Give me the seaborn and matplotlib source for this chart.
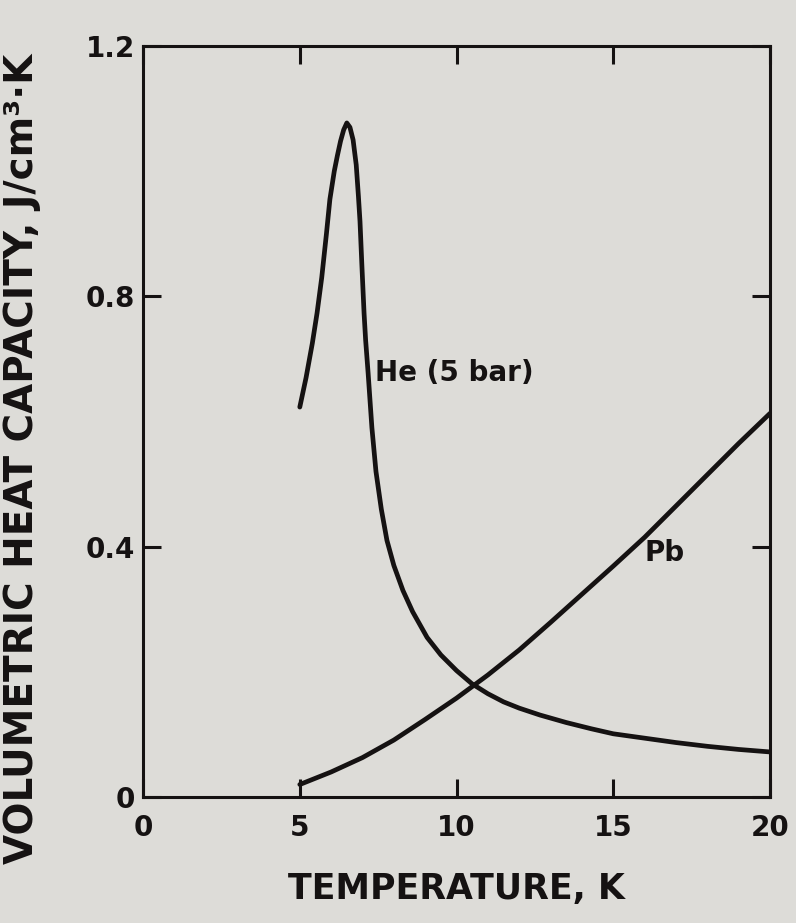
import numpy as np
import pandas as pd
import matplotlib
matplotlib.use('Agg')
import matplotlib.pyplot as plt
import seaborn as sns

sns.set_style('ticks')
plt.rcParams['font.family'] = ['DejaVu Sans']
plt.rcParams['font.weight'] = 'bold'

# He (5 bar) curve
he_temp = [5.0, 5.2, 5.4, 5.55, 5.7, 5.85, 5.96, 6.1, 6.2, 6.3, 6.4, 6.5,
           6.6, 6.7, 6.8, 6.87, 6.92, 6.98, 7.05, 7.1, 7.18, 7.3, 7.43, 7.6,
           7.78, 8.0, 8.29, 8.6, 9.06, 9.5, 10.0, 10.49, 11.0, 11.5, 12.0,
           12.66, 13.5, 14.3, 15.0, 16.0, 17.0, 18.0, 19.0, 20.0]
he_cap = [0.623, 0.67, 0.725, 0.773, 0.83, 0.9, 0.955, 1.0, 1.025, 1.048,
          1.066, 1.077, 1.07, 1.05, 1.01, 0.96, 0.92, 0.85, 0.773, 0.73,
          0.677, 0.59, 0.52, 0.46, 0.41, 0.37, 0.33, 0.296, 0.255, 0.227,
          0.202, 0.181, 0.165, 0.152, 0.142, 0.131, 0.119, 0.109, 0.101,
          0.094, 0.087, 0.081, 0.076, 0.072]

# Pb curve
pb_temp = [5, 6, 7, 8, 9, 10, 11, 12, 13, 14, 15, 16, 17, 18, 19, 20]
pb_cap = [0.02, 0.04, 0.063, 0.091, 0.124, 0.158, 0.195, 0.235, 0.279, 0.324,
          0.369, 0.415, 0.465, 0.515, 0.565, 0.613]

x_ticks = [0, 5, 10, 15, 20]
y_ticks = [0, 0.4, 0.8, 1.2]
y_tick_labels = ['0', '0.4', '0.8', '1.2']

bg = '#dddcd8'
ink = '#151212'

fig = plt.figure(figsize=(7.96, 9.23), dpi=100, facecolor=bg)
ax = fig.add_axes([0.1797, 0.1365, 0.7877, 0.8137])
ax.set_facecolor(bg)

line_kw = dict(color=ink, linewidth=3.4, solid_joinstyle='round',
               solid_capstyle='round')
sns.lineplot(x=he_temp, y=he_cap, ax=ax, **line_kw)
sns.lineplot(x=pb_temp, y=pb_cap, ax=ax, **line_kw)

ax.text(7.4, 0.677, 'He (5 bar)', ha='left', va='center', fontsize=20,
        fontweight='bold', color=ink)
ax.text(16.0, 0.39, 'Pb', ha='left', va='center', fontsize=20,
        fontweight='bold', color=ink)

ax.set_xlim(0, 20)
ax.set_ylim(0, 1.2)
ax.set_xticks(x_ticks)
ax.set_xticklabels([str(t) for t in x_ticks])
ax.set_yticks(y_ticks)
ax.set_yticklabels(y_tick_labels)

for s in ax.spines.values():
    s.set_visible(True)
    s.set_linewidth(2.2)
    s.set_color(ink)

ax.tick_params(axis='both', direction='in', top=True, right=True, length=13,
               width=2.2, color=ink, labelsize=20, labelcolor=ink)
ax.tick_params(axis='x', pad=12)
ax.tick_params(axis='y', pad=6)

ax.set_xlabel('TEMPERATURE, K', fontsize=25, fontweight='bold', color=ink,
              labelpad=22)
ax.set_ylabel('VOLUMETRIC HEAT CAPACITY, J/cm³·K', fontsize=28,
              fontweight='bold', color=ink)
ax.yaxis.set_label_coords(-0.162, 0.45)

fig.savefig('out.png', dpi=100, facecolor=bg)
